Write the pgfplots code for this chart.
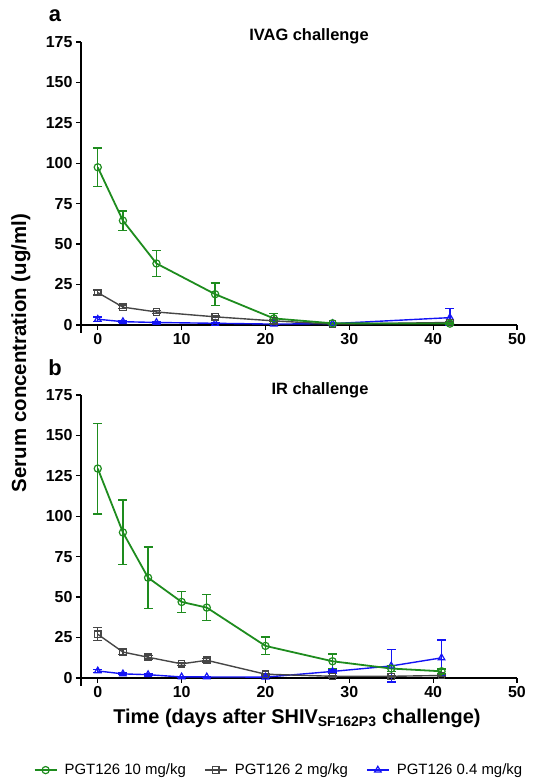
\documentclass[border=0pt]{standalone}
\usepackage{fontspec}
\setmainfont{Liberation Sans}
\usepackage{pgfplots}
\usepackage{pgfplotstable}
\pgfplotsset{compat=1.18}

\definecolor{cgreen}{RGB}{30,140,30}
\definecolor{cgray}{RGB}{70,70,70}
\definecolor{cblue}{RGB}{20,20,245}

% IVAG challenge: x  y  plus  minus
\pgfplotstableread{
x y ep em
0 97.5 12 12
3 64.5 6 6
7 38 8 8
14 19 7 7
21 4 3 3
28 1 0.5 0.5
42 0.8 0.5 0.5
}\ivaggreen
\pgfplotstableread{
x y ep em
0 20 1.5 1.5
3 11 1 1
7 8 0.8 0.8
14 5 0.5 0.5
21 2.5 0.5 0.5
28 0.5 0.3 0.3
42 1.5 0.5 0.5
}\ivaggray
\pgfplotstableread{
x y ep em
0 3.5 1.5 1.5
3 2 0.5 0.5
7 1.5 0.5 0.5
14 1 0.3 0.3
21 0.5 0.3 0.3
28 0.8 0.3 0.3
42 4.5 5.5 4.5
}\ivagblue

% IR challenge
\pgfplotstableread{
x y ep em
0 129.5 28 28
3 90 20 20
6 62 19 19
10 47 6.5 6.5
13 43.5 8 8
20 19.8 5.5 5.5
28 10.3 4.5 4.5
35 5.8 2 2
41 4.1 1.5 1.5
}\irgreen
\pgfplotstableread{
x y ep em
0 27 4 4
3 16 1.5 1.5
6 12.8 1 1
10 8.7 1 1
13 10.9 1 1
20 2.3 0.5 0.5
28 1 0.5 0.5
35 1 0.5 0.5
41 1.5 0.5 0.5
}\irgray
\pgfplotstableread{
x y ep em
0 4.3 1 1
3 2.5 0.5 0.5
6 2 0.5 0.5
10 0.6 0.3 0.3
13 0.6 0.3 0.3
20 0.5 0.3 0.3
28 4 1 1
35 7.4 10 10
41 12.4 11 10.7
}\irblue

\pgfplotsset{
  pk/.style={
    scale only axis, width=436bp, height=291bp,
    xmin=-2, xmax=50, ymin=-5, ymax=175,
    axis x line*=middle, axis y line*=left,
    hide obscured x ticks=false, hide obscured y ticks=false,
    xtick={0,10,...,50}, ytick={0,25,...,175},
    tick align=outside, major tick length=5bp,
    axis line style={line width=1.5pt},
    tick style={black, line width=1.3pt},
    tick label style={font=\bfseries\fontsize{16}{16}\selectfont},
    /pgf/number format/assume math mode=true,
    clip=false,
  },
  ser/.style={line width=#1,
    error bars/y dir=both, error bars/y explicit,
    error bars/error bar style={line width=1.4pt},
    error bars/error mark options={rotate=90, mark size=4.5bp, line width=1.4pt}},
  sgreen/.style={cgreen, ser=1.8pt, mark=o, mark size=3.6bp, mark options={line width=1.2pt}},
  sgray/.style={cgray, ser=1.4pt, mark=square, mark size=3.2bp, mark options={line width=1.2pt}},
  sblue/.style={cblue, ser=1.4pt, mark=triangle, mark size=3.8bp, mark options={line width=1.2pt}},
}

\begin{document}
\begin{tikzpicture}
\useasboundingbox (0,0) rectangle (552bp,783bp);

\begin{axis}[pk, at={(81bp,450bp)}, anchor=south west]
\addplot[sblue] table[x=x, y=y, y error plus=ep, y error minus=em] {\ivagblue};
\addplot[sgray] table[x=x, y=y, y error plus=ep, y error minus=em] {\ivaggray};
\addplot[sgreen] table[x=x, y=y, y error plus=ep, y error minus=em] {\ivaggreen};
\end{axis}

\begin{axis}[pk, at={(81bp,97bp)}, anchor=south west,
  legend columns=3, reverse legend,
  legend style={at={(0.454,-0.289)}, anchor=center, draw=none, fill=none,
    font=\fontsize{15}{15}\selectfont,
    /tikz/every odd column/.append style={column sep=5bp},
    /tikz/every even column/.append style={column sep=16bp}},
  legend image code/.code={\draw[mark repeat=2, mark phase=2, line width=2pt]
    plot coordinates {(0bp,0bp) (11bp,0bp) (22bp,0bp)};}]
\addplot[sblue] table[x=x, y=y, y error plus=ep, y error minus=em] {\irblue};
\addlegendentry{PGT126 0.4 mg/kg}
\addplot[sgray] table[x=x, y=y, y error plus=ep, y error minus=em] {\irgray};
\addlegendentry{PGT126 2 mg/kg}
\addplot[sgreen] table[x=x, y=y, y error plus=ep, y error minus=em] {\irgreen};
\addlegendentry{PGT126 10 mg/kg}
\end{axis}

\node[font=\bfseries\fontsize{22}{22}\selectfont] at (55bp,767bp) {a};
\node[font=\bfseries\fontsize{22}{22}\selectfont] at (55bp,415bp) {b};
\node[font=\bfseries\fontsize{16.5}{16.5}\selectfont] at (309bp,747bp) {IVAG challenge};
\node[font=\bfseries\fontsize{16.5}{16.5}\selectfont] at (320bp,393bp) {IR challenge};
\node[font=\bfseries\fontsize{20.5}{20.5}\selectfont, rotate=90] at (21bp,430bp) {Serum concentration (ug/ml)};
\node[font=\bfseries\fontsize{20}{20}\selectfont] at (297bp,65bp) {Time (days after SHIV\textsubscript{SF162P3} challenge)};
\end{tikzpicture}
\end{document}
